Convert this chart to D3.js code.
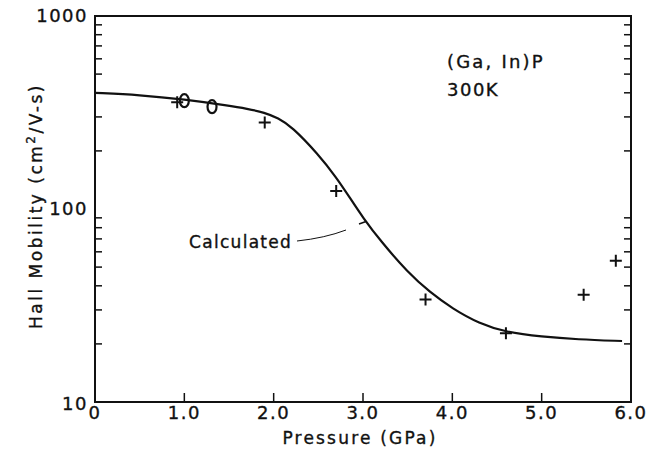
<!DOCTYPE html>
<html>
<head>
  <meta charset="utf-8">
  <script src="https://d3js.org/d3.v7.min.js"></script>
  <style>
    body { margin: 0; background: #fff; }
    text { font-family: "DejaVu Sans", sans-serif; fill: #111; stroke: #111; stroke-width: 0.35px; }
  </style>
</head>
<body>
<script>
  // measured points (pressure in GPa, Hall mobility in cm2/V-s)
  var crossP = [0.92, 1.90, 2.70, 3.70, 4.60, 5.47, 5.83];
  var crossMu = [357, 281, 124, 34, 22.7, 36, 54];
  var circleP = [1.00, 1.31];
  var circleMu = [364, 339];

  // calculated curve
  var calcP = [0, 0.5, 1.0, 1.5, 1.7, 1.9, 2.05, 2.2, 2.5, 2.7, 2.85, 3.0, 3.2, 3.5, 3.75, 4.0, 4.3, 4.6, 5.0, 5.4, 5.9];
  var calcMu = [400, 390, 370, 343, 331, 316, 296, 268, 192, 146, 115, 90, 68, 47, 37, 30.5, 25.5, 23, 21.8, 21.1, 20.7];

  var xTicks = [0, 1, 2, 3, 4, 5, 6];
  var xTickLabels = ["0", "1.0", "2.0", "3.0", "4.0", "5.0", "6.0"];
  var yTicks = [10, 100, 1000];
  var yTickLabels = ["10", "100", "1000"];

  "use strict";
  var width = 658, height = 460;
  var svg = d3.select("body").append("svg")
      .attr("width", width)
      .attr("height", height);

  var x = d3.scaleLinear().domain([0, 6]).range([95, 631]);
  var y = d3.scaleLog().domain([10, 1000]).range([402, 16]);

  // minor log ticks 2..9 in each decade
  var minor = [];
  [10, 100].forEach(function (d) {
    for (var k = 2; k <= 9; k++) minor.push(d * k);
  });

  var frame = svg.append("g");
  frame.append("rect")
    .attr("x", x(0)).attr("y", y(1000))
    .attr("width", x(6) - x(0)).attr("height", y(10) - y(1000))
    .attr("fill", "none").attr("stroke", "#111").attr("stroke-width", 2);

  // left and right inward ticks
  frame.selectAll(".yl").data(minor).enter().append("line")
    .attr("x1", x(0)).attr("x2", x(0) + 7)
    .attr("y1", function (d) { return y(d); }).attr("y2", function (d) { return y(d); })
    .attr("stroke", "#111").attr("stroke-width", 1.5);
  frame.selectAll(".yr").data(minor).enter().append("line")
    .attr("x1", x(6)).attr("x2", x(6) - 7)
    .attr("y1", function (d) { return y(d); }).attr("y2", function (d) { return y(d); })
    .attr("stroke", "#111").attr("stroke-width", 1.5);

  // bottom ticks
  frame.selectAll(".xt").data(xTicks.slice(1, -1)).enter().append("line")
    .attr("x1", function (d) { return x(d); }).attr("x2", function (d) { return x(d); })
    .attr("y1", y(10)).attr("y2", y(10) - 9)
    .attr("stroke", "#111").attr("stroke-width", 1.5);

  // tick labels
  svg.selectAll(".xl").data(xTicks).enter().append("text")
    .attr("x", function (d) { return x(d); })
    .attr("y", 419)
    .attr("text-anchor", "middle")
    .style("font-size", "18px").style("letter-spacing", "1.5px")
    .text(function (d, i) { return xTickLabels[i]; });

  svg.selectAll(".ylab").data(yTicks).enter().append("text")
    .attr("x", 88)
    .attr("y", function (d, i) { return y(d) + (i === 0 ? 8 : 6); })
    .attr("text-anchor", "end")
    .style("font-size", "18px").style("letter-spacing", "1.5px")
    .text(function (d, i) { return yTickLabels[i]; });

  // axis titles
  svg.append("text")
    .attr("x", 360).attr("y", 444)
    .attr("text-anchor", "middle")
    .style("font-size", "17px").style("letter-spacing", "2.2px")
    .text("Pressure (GPa)");

  var yt = svg.append("text")
    .attr("transform", "translate(42,206) rotate(-90)")
    .attr("text-anchor", "middle")
    .style("font-size", "17px").style("letter-spacing", "2.5px");
  yt.append("tspan").text("Hall Mobility (cm");
  yt.append("tspan").attr("dy", -7).style("font-size", "12px").text("2");
  yt.append("tspan").attr("dy", 7).text("/V-s)");

  // calculated curve
  var line = d3.line()
    .x(function (d) { return x(d[0]); })
    .y(function (d) { return y(d[1]); })
    .curve(d3.curveBasis);
  svg.append("path")
    .datum(calcP.map(function (p, i) { return [p, calcMu[i]]; }))
    .attr("d", line)
    .attr("fill", "none").attr("stroke", "#111").attr("stroke-width", 2.2);

  // crosses
  svg.selectAll(".cross").data(crossP).enter().append("path")
    .attr("transform", function (d, i) { return "translate(" + x(d) + "," + y(crossMu[i]) + ")"; })
    .attr("d", "M-6,0H6M0,-6V6")
    .attr("stroke", "#111").attr("stroke-width", 2);

  // circles
  svg.selectAll(".circ").data(circleP).enter().append("ellipse")
    .attr("cx", function (d) { return x(d); })
    .attr("cy", function (d, i) { return y(circleMu[i]); })
    .attr("rx", 4.5).attr("ry", 6.5)
    .attr("fill", "none").attr("stroke", "#111").attr("stroke-width", 2.2);

  // annotations
  svg.append("text")
    .attr("x", 189).attr("y", 248)
    .style("font-size", "17px").style("letter-spacing", "1.3px")
    .text("Calculated");
  svg.append("path")
    .attr("d", "M297,241 Q325,238 346,230")
    .attr("fill", "none").attr("stroke", "#111").attr("stroke-width", 1);
  svg.append("path")
    .attr("d", "M359,224 L366,221.5")
    .attr("fill", "none").attr("stroke", "#111").attr("stroke-width", 1.5);

  svg.append("text")
    .attr("x", 447).attr("y", 68)
    .style("font-size", "18px").style("letter-spacing", "2.2px")
    .text("(Ga, In)P");
  svg.append("text")
    .attr("x", 447).attr("y", 96)
    .style("font-size", "18px").style("letter-spacing", "1.5px")
    .text("300K");
</script>
</body>
</html>
